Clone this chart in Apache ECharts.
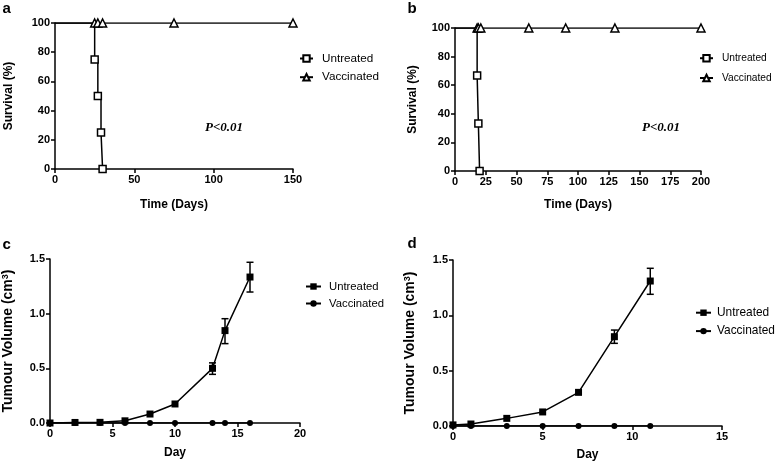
<!DOCTYPE html>
<html><head><meta charset="utf-8">
<script src="https://cdn.jsdelivr.net/npm/echarts@6/dist/echarts.min.js"></script>
<style>html,body{margin:0;padding:0;background:#fff}#c{width:778px;height:463px}</style>
</head><body><div id="c"></div>
<script>
// Panel a: survival
const aUntreatedDays = [0, 25, 27, 29, 30];
const aUntreatedSurv = [100, 75, 50, 25, 0];
const aVaccDays = [0, 25, 27, 30, 75, 150];
const aVaccSurv = [100, 100, 100, 100, 100, 100];
// Panel b: survival
const bUntreatedDays = [0, 18, 19, 20];
const bUntreatedSurv = [100, 66.7, 33.3, 0];
const bVaccDays = [0, 18, 19, 21, 60, 90, 130, 200];
const bVaccSurv = [100, 100, 100, 100, 100, 100, 100, 100];
// Panel c: tumour volume
const cDays = [0, 2, 4, 6, 8, 10, 13, 14, 16];
const cUntreated = [0.0, 0.005, 0.006, 0.02, 0.082, 0.174, 0.50, 0.845, 1.335];
const cVacc = [0, 0, 0, 0, 0, 0, 0, 0, 0];
const cErrDays = [13, 14, 16];
const cErrLow = [0.445, 0.726, 1.198];
const cErrHigh = [0.55, 0.954, 1.47];
// Panel d: tumour volume
const dDays = [0, 1, 3, 5, 7, 9, 11];
const dUntreated = [0.01, 0.018, 0.069, 0.127, 0.304, 0.807, 1.31];
const dVacc = [0, 0, 0, 0, 0, 0, 0];
const dErrDays = [9, 11];
const dErrLow = [0.747, 1.19];
const dErrHigh = [0.867, 1.425];

const legendNames = ['Untreated', 'Vaccinated'];
const FONT = '"Liberation Sans", Arial, sans-serif';

function pts(xs, ys, skipFirst) {
  return xs.map((x, i) => (skipFirst && i === 0) ? {value: [x, ys[i]], symbol: 'none'} : [x, ys[i]]);
}
function errData(xs, lo, hi) { return xs.map((x, i) => [x, lo[i], hi[i]]); }

function axisX(idx, min, max, interval, name, gap) {
  return {gridIndex: idx, type: 'value', min, max, interval, name, nameLocation: 'middle', nameGap: gap,
    nameTextStyle: {fontFamily: FONT, fontWeight: 'bold', fontSize: 12, color: '#000'},
    axisLine: {lineStyle: {color: '#000', width: 1.5}}, axisTick: {length: 4, lineStyle: {color: '#000', width: 1.5}},
    axisLabel: {fontFamily: FONT, fontWeight: 'bold', fontSize: 11, color: '#000', margin: 5},
    splitLine: {show: false}};
}
function axisY(idx, min, max, interval, name, gap, fmt, size) {
  return {gridIndex: idx, type: 'value', min, max, interval, name, nameLocation: 'middle', nameGap: gap,
    nameTextStyle: {fontFamily: FONT, fontWeight: 'bold', fontSize: size, color: '#000',
      rich: {sup: {fontFamily: FONT, fontWeight: 'bold', fontSize: 9, color: '#000', verticalAlign: 'top', padding: [0, 0, 6, 0]}}},
    axisLine: {show: true, lineStyle: {color: '#000', width: 1.5}}, axisTick: {show: true, length: 4, lineStyle: {color: '#000', width: 1.5}},
    axisLabel: {fontFamily: FONT, fontWeight: 'bold', fontSize: 11, color: '#000', margin: 5, formatter: fmt},
    splitLine: {show: false}};
}
const openSq = {color: '#fff', borderColor: '#000', borderWidth: 1.5};
const lineSt = {color: '#000', width: 1.5};

function errSeries(idx, data) {
  return {type: 'custom', xAxisIndex: idx, yAxisIndex: idx, data, z: 5, silent: true,
    renderItem: function (params, api) {
      const x = api.value(0);
      const p1 = api.coord([x, api.value(1)]);
      const p2 = api.coord([x, api.value(2)]);
      const w = 3.5;
      const st = {stroke: '#000', lineWidth: 1.5};
      return {type: 'group', children: [
        {type: 'line', shape: {x1: p1[0], y1: p1[1], x2: p2[0], y2: p2[1]}, style: st},
        {type: 'line', shape: {x1: p1[0] - w, y1: p1[1], x2: p1[0] + w, y2: p1[1]}, style: st},
        {type: 'line', shape: {x1: p2[0] - w, y1: p2[1], x2: p2[0] + w, y2: p2[1]}, style: st}
      ]};
    }};
}

function legend(prefix, left, top, gap, size, iw, tpad) {
  return {orient: 'vertical', left, top, itemGap: gap, itemWidth: iw, itemHeight: 8, padding: 0,
    data: legendNames.map(n => prefix + ':' + n), formatter: n => n.split(':')[1],
    textStyle: {fontFamily: FONT, fontSize: size, color: '#000', padding: [0, 0, 0, tpad]}, selectedMode: false};
}
const labelStyle = {fontFamily: FONT, fontWeight: 'bold', fontSize: 15, color: '#000'};

const option = {
  animation: false,
  backgroundColor: '#fff',
  title: [
    {text: 'a', left: 2.5, top: 1, padding: 0, textStyle: labelStyle},
    {text: 'b', left: 407.5, top: 1, padding: 0, textStyle: labelStyle},
    {text: 'c', left: 2.5, top: 237, padding: 0, textStyle: labelStyle},
    {text: 'd', left: 407.5, top: 236, padding: 0, textStyle: labelStyle}
  ],
  graphic: [
    {type: 'text', left: 205, top: 121, style: {text: 'P<0.01', font: 'italic bold 13px "Liberation Serif", "Times New Roman", serif', fill: '#000'}},
    {type: 'text', left: 642, top: 121, style: {text: 'P<0.01', font: 'italic bold 13px "Liberation Serif", "Times New Roman", serif', fill: '#000'}}
  ],
  legend: [
    legend('a', 299, 52.5, 6.7, 11.7, 13, 4),
    legend('b', 699, 53.2, 9.8, 10.2, 13, 4),
    legend('c', 305, 281, 6, 11.3, 15, 3),
    legend('d', 695, 306.7, 6.4, 11.9, 15, 1)
  ],
  grid: [
    {left: 55, top: 23, width: 238, height: 146},
    {left: 455, top: 28, width: 246, height: 143},
    {left: 50, top: 259, width: 250, height: 164},
    {left: 453, top: 260, width: 269, height: 166}
  ],
  xAxis: [
    axisX(0, 0, 150, 50, 'Time (Days)', 30),
    axisX(1, 0, 200, 25, 'Time (Days)', 28),
    axisX(2, 0, 20, 5, 'Day', 24),
    axisX(3, 0, 15, 5, 'Day', 23)
  ],
  yAxis: [
    axisY(0, 0, 100, 20, 'Survival (%)', 40, undefined, 12),
    axisY(1, 0, 100, 20, 'Survival (%)', 36, undefined, 12),
    axisY(2, 0, 1.5, 0.5, 'Tumour Volume (cm{sup|3})', 34, v => v.toFixed(1), 14),
    axisY(3, 0, 1.5, 0.5, 'Tumour Volume (cm{sup|3})', 35, v => v.toFixed(1), 14)
  ],
  series: [
    {name: 'a:Untreated', type: 'line', xAxisIndex: 0, yAxisIndex: 0, step: 'end', data: pts(aUntreatedDays, aUntreatedSurv, true),
      symbol: 'rect', symbolSize: 7, itemStyle: openSq, lineStyle: lineSt, z: 3},
    {name: 'a:Vaccinated', type: 'line', xAxisIndex: 0, yAxisIndex: 0, data: pts(aVaccDays, aVaccSurv, true),
      symbol: 'triangle', symbolSize: 8, itemStyle: openSq, lineStyle: lineSt, z: 4},
    {name: 'b:Untreated', type: 'line', xAxisIndex: 1, yAxisIndex: 1, step: 'end', data: pts(bUntreatedDays, bUntreatedSurv, true),
      symbol: 'rect', symbolSize: 7, itemStyle: openSq, lineStyle: lineSt, z: 3},
    {name: 'b:Vaccinated', type: 'line', xAxisIndex: 1, yAxisIndex: 1, data: pts(bVaccDays, bVaccSurv, true),
      symbol: 'triangle', symbolSize: 8, itemStyle: openSq, lineStyle: lineSt, z: 4},
    {name: 'c:Untreated', type: 'line', xAxisIndex: 2, yAxisIndex: 2, data: pts(cDays, cUntreated, false),
      symbol: 'rect', symbolSize: 7, itemStyle: {color: '#000'}, lineStyle: lineSt, z: 3},
    {name: 'c:Vaccinated', type: 'line', xAxisIndex: 2, yAxisIndex: 2, data: pts(cDays, cVacc, false),
      symbol: 'circle', symbolSize: 6, itemStyle: {color: '#000'}, lineStyle: lineSt, z: 4},
    errSeries(2, errData(cErrDays, cErrLow, cErrHigh)),
    {name: 'd:Untreated', type: 'line', xAxisIndex: 3, yAxisIndex: 3, data: pts(dDays, dUntreated, false),
      symbol: 'rect', symbolSize: 7, itemStyle: {color: '#000'}, lineStyle: lineSt, z: 3},
    {name: 'd:Vaccinated', type: 'line', xAxisIndex: 3, yAxisIndex: 3, data: pts(dDays, dVacc, false),
      symbol: 'circle', symbolSize: 6, itemStyle: {color: '#000'}, lineStyle: lineSt, z: 4},
    errSeries(3, errData(dErrDays, dErrLow, dErrHigh))
  ]
};
const chart = echarts.init(document.getElementById('c'), null, {renderer: 'canvas'});
chart.setOption(option);
</script></body></html>
